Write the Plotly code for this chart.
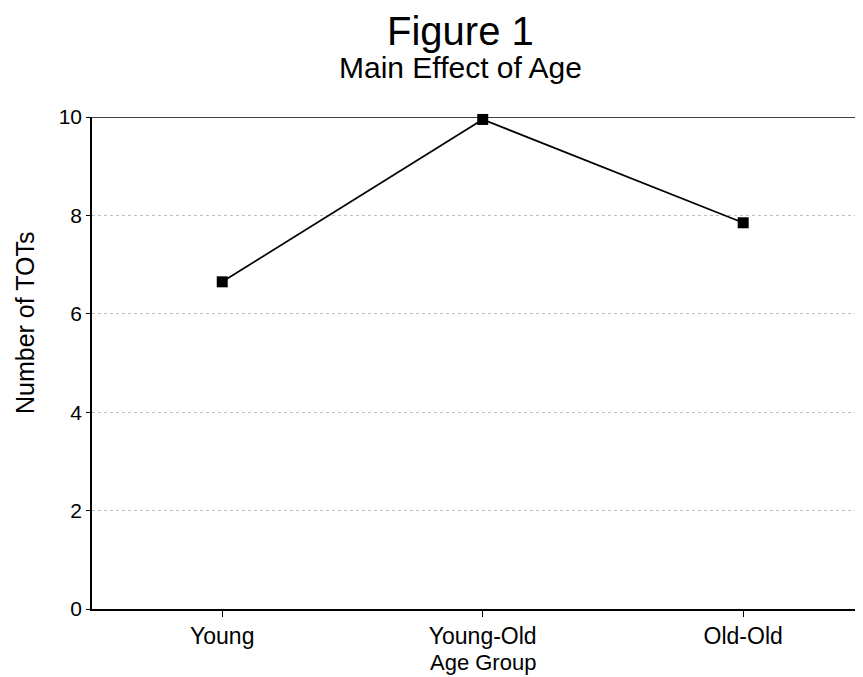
import plotly.graph_objects as go

categories = ["Young", "Young-Old", "Old-Old"]
tots = [6.65, 9.95, 7.85]
y_ticks = [0, 2, 4, 6, 8, 10]

FONT = "Liberation Sans, Arial, Helvetica, sans-serif"
PH = 492.0  # plot height in px
PW = 771.0  # plot width in px

fig = go.Figure()
fig.add_trace(go.Scatter(
    x=categories, y=tots, mode="lines+markers",
    line=dict(color="black", width=1.7),
    marker=dict(symbol="square", size=11, color="black"),
    showlegend=False, cliponaxis=False,
))

fig.update_layout(
    width=855, height=669,
    margin=dict(l=84, r=0, t=109, b=68),
    paper_bgcolor="white", plot_bgcolor="white",
    font=dict(family=FONT, color="black"),
    xaxis=dict(
        type="category", range=[-0.5, 2.46],
        showline=True, linecolor="black", linewidth=1.6,
        ticks="outside", ticklen=6, tickcolor="black", tickwidth=1.3,
        tickfont=dict(size=23), showgrid=False, zeroline=False,
    ),
    yaxis=dict(
        range=[0, 10], tickvals=y_ticks,
        showline=True, linecolor="black", linewidth=1.6,
        ticks="outside", ticklen=4, tickcolor="black",
        tickfont=dict(size=21), zeroline=False,
        showgrid=True, gridcolor="rgba(110,110,110,0.45)", griddash="dot", gridwidth=1,
    ),
    annotations=[
        dict(text="Figure 1", xref="paper", yref="paper", x=(460 - 92) / PW, y=1 + 86 / PH,
             xanchor="center", yanchor="middle", showarrow=False,
             font=dict(size=40, family=FONT)),
        dict(text="Main Effect of Age", xref="paper", yref="paper", x=(460 - 92) / PW, y=1 + 50 / PH,
             xanchor="center", yanchor="middle", showarrow=False,
             font=dict(size=30, family=FONT)),
        dict(text="Number of TOTs", xref="paper", yref="paper", x=(25 - 92) / PW, y=(609 - 323) / PH,
             xanchor="center", yanchor="middle", showarrow=False, textangle=-90,
             font=dict(size=25, family=FONT)),
        dict(text="Age Group", xref="paper", yref="paper", x=(483 - 92) / PW, y=(609 - 662) / PH,
             xanchor="center", yanchor="middle", showarrow=False,
             font=dict(size=22, family=FONT)),
    ],
    shapes=[
        dict(type="line", xref="paper", yref="y", x0=0, x1=1, y0=10, y1=10,
             line=dict(color="black", width=1.6)),
    ],
)

fig.write_html("out.html")
